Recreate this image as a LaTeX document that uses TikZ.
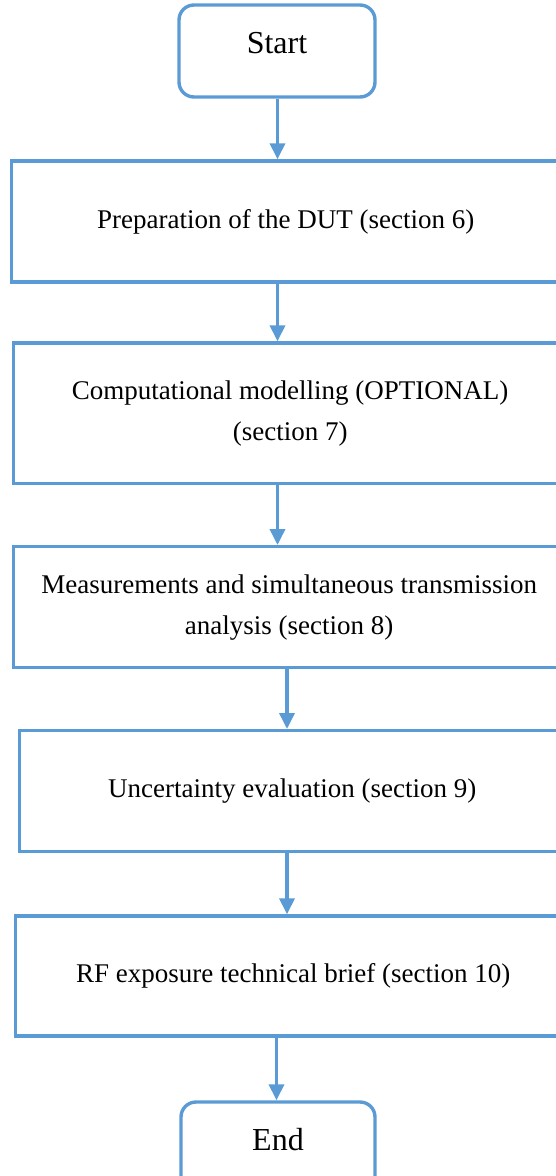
\documentclass[tikz,border=0pt]{standalone}
\usepackage{fontspec}
\setmainfont{Liberation Serif}
\usetikzlibrary{arrows.meta}
\definecolor{flowblue}{RGB}{91,155,213}
\tikzset{
  stepbox/.style={draw=flowblue, line width=3.4pt, rectangle, inner sep=0pt,
    align=center, font=\fontsize{27}{41}\selectfont},
  termbox/.style={draw=flowblue, line width=3.4pt, rectangle, rounded corners=15pt,
    inner sep=0pt, minimum width=196pt, minimum height=92pt,
    text height=22pt, text depth=17pt, font=\fontsize{32}{38}\selectfont},
  flow/.style={draw=flowblue, line width=3.6pt,
    -{Triangle[width=15pt,length=16pt]}}
}
\begin{document}
\begin{tikzpicture}[x=1pt, y=-1pt]
  \useasboundingbox (0,0) rectangle (556,1176);
  \clip (0,0) rectangle (556,1176);

  % terminal boxes
  \node[termbox] (start) at (277,51) {Start};
  \node[termbox, minimum width=194pt] (end) at (278,1148) {End};

  % process steps (right edges run past the page)
  \node[stepbox, minimum width=548.5pt, minimum height=121pt] (prep) at (285.75,221.5)
    {Preparation of the DUT (section 6)};
  \node[stepbox, minimum width=553.7pt, minimum height=140.3pt] (model) at (290.15,413.15)
    {Computational modelling (OPTIONAL)\\(section 7)};
  \node[stepbox, minimum width=551.7pt, minimum height=121pt] (meas) at (289.15,607.2)
    {Measurements and simultaneous transmission\\analysis (section 8)};
  \node[stepbox, minimum width=545.7pt, minimum height=121pt] (unc) at (292.15,791.2)
    {Uncertainty evaluation (section 9)};
  \node[stepbox, minimum width=555.7pt, minimum height=120pt] (brief) at (293.15,976)
    {RF exposure technical brief (section 10)};

  % columns of the connectors
  \coordinate (colA) at (277.5,0);
  \coordinate (colB) at (287,0);
  \coordinate (colC) at (276.5,0);

  \draw[flow] (start.south -| colA) -- (prep.north -| colA);
  \draw[flow] (prep.south -| colA) -- (model.north -| colA);
  \draw[flow] (model.south -| colA) -- (meas.north -| colA);
  \draw[flow] (meas.south -| colB) -- (unc.north -| colB);
  \draw[flow] (unc.south -| colB) -- (brief.north -| colB);
  \draw[flow] (brief.south -| colC) -- (end.north -| colC);
\end{tikzpicture}
\end{document}
